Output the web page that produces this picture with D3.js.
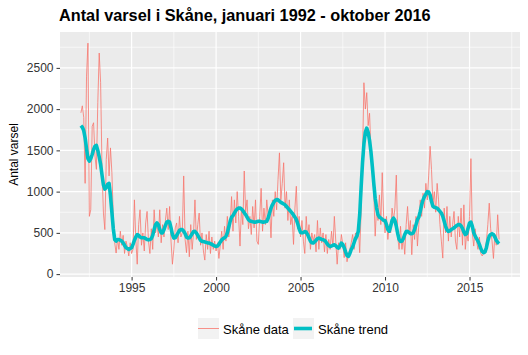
<!DOCTYPE html>
<html><head><meta charset="utf-8">
<script src="https://cdn.jsdelivr.net/npm/d3@7"></script>
<style>body{margin:0;background:#fff} svg{display:block;font-family:"Liberation Sans",Arial,sans-serif}</style>
</head><body><svg id="c" width="528" height="355"></svg>
<script>
const startYear = 1992; // first month: januari 1992, monthly values
const varselData = [
1955,2040,1900,1100,2400,2800,700,780,1790,1835,1430,1270,
2080,2680,2320,1270,740,540,1390,1650,1190,1530,1230,700,
380,255,430,300,520,350,470,250,400,330,220,380,
250,300,900,420,120,600,780,350,500,280,620,760,
400,250,550,300,780,500,620,450,780,380,600,450,
650,800,540,820,400,120,300,560,620,380,700,450,
500,1190,420,260,520,210,600,300,500,900,420,600,
740,350,500,280,170,480,300,520,250,450,300,400,
280,380,190,350,520,300,580,400,700,450,600,940,
520,900,620,1000,700,340,800,600,1250,750,900,550,
700,480,820,560,900,400,360,700,1040,520,800,600,
900,700,800,440,900,700,1000,780,1150,1470,900,1100,
1350,800,1000,650,900,600,700,360,800,1065,550,700,
450,650,400,250,700,450,600,300,500,400,480,270,
650,300,560,380,500,270,480,250,420,300,520,330,
700,400,120,380,300,480,360,200,380,150,250,300,
380,480,300,500,420,600,260,750,1400,2320,2000,2200,
1800,1950,1500,1250,1000,460,800,650,960,600,1230,700,
500,700,420,600,500,800,650,800,1200,450,300,580,
300,450,240,600,820,500,650,235,600,420,700,340,
600,900,700,980,800,1100,900,1200,1550,1270,850,1000,
750,1100,900,600,400,194,800,500,820,400,700,450,
600,760,400,300,700,450,800,350,840,300,500,400,
700,1400,500,340,550,400,300,450,250,220,255,300,
400,600,860,550,400,190,480,350,720,420
];
const trendData = [
1800,1780,1740,1650,1520,1400,1370,1400,1450,1510,1550,1560,
1500,1420,1330,1200,1080,1030,1050,1090,1100,950,750,550,
420,400,420,420,410,400,380,350,320,310,300,310,
320,360,410,450,480,470,450,440,440,440,430,420,
415,420,430,470,540,600,620,600,540,500,500,540,
590,630,640,630,560,480,437,440,470,500,530,540,
540,520,490,450,437,440,460,490,515,518,500,470,
440,410,397,395,390,385,378,377,370,360,350,340,
336,340,360,390,415,430,440,457,500,570,640,690,
710,740,770,790,800,802,790,770,745,720,690,660,
645,640,635,630,630,635,640,640,635,630,630,635,
640,680,740,800,840,870,895,903,900,885,870,860,
850,840,820,800,780,760,740,715,690,660,610,550,
505,500,505,515,510,480,440,400,380,377,390,410,
430,437,430,420,417,410,390,365,345,336,340,350,
356,345,325,316,340,377,360,320,270,225,215,250,
300,330,380,430,460,520,720,1050,1350,1580,1720,1770,
1720,1620,1480,1300,1100,920,800,720,690,680,665,650,
650,600,540,520,580,650,680,650,580,490,420,397,
400,430,480,515,518,505,490,490,500,540,600,660,
690,760,840,900,940,970,1000,995,960,880,822,810,
805,800,780,760,740,700,640,580,535,518,525,540,
550,560,575,590,600,600,585,555,510,480,490,560,
620,630,580,500,460,430,400,360,310,275,260,270,
320,400,460,480,490,480,450,410,385,370
];
const yTicks = [0,500,1000,1500,2000,2500];
const yMinor = [250,750,1250,1750,2250,2750];
const xTicks = [1995,2000,2005,2010,2015];
const xMinor = [1992.5,1997.5,2002.5,2007.5,2012.5,2017.5];
const legendLabels = ["Skåne data","Skåne trend"];
const titleText = "Antal varsel i Skåne, januari 1992 - oktober 2016";
const yTitle = "Antal varsel";

const svg = d3.select("#c");
const P = {l:60, r:520, t:32, b:277};
const tOf = i => startYear + i/12;
const tMax = tOf(varselData.length-1);
const span = tMax - startYear;
const x = d3.scaleLinear().domain([startYear - 0.05*span, tMax + 0.05*span]).range([P.l, P.r]);
const y = d3.scaleLinear().domain([-35, 2935]).range([P.b, P.t]);

svg.append("rect").attr("x",P.l).attr("y",P.t).attr("width",P.r-P.l).attr("height",P.b-P.t).attr("fill","#EBEBEB");
const g = svg.append("g");
g.selectAll(".ymin").data(yMinor).join("line").attr("x1",P.l).attr("x2",P.r)
  .attr("y1",d=>y(d)).attr("y2",d=>y(d)).attr("stroke","#fff").attr("stroke-width",0.6);
g.selectAll(".xmin").data(xMinor).join("line").attr("y1",P.t).attr("y2",P.b)
  .attr("x1",d=>x(d)).attr("x2",d=>x(d)).attr("stroke","#fff").attr("stroke-width",0.6);
g.selectAll(".ymaj").data(yTicks).join("line").attr("x1",P.l).attr("x2",P.r)
  .attr("y1",d=>y(d)).attr("y2",d=>y(d)).attr("stroke","#fff").attr("stroke-width",1.2);
g.selectAll(".xmaj").data(xTicks).join("line").attr("y1",P.t).attr("y2",P.b)
  .attr("x1",d=>x(d)).attr("x2",d=>x(d)).attr("stroke","#fff").attr("stroke-width",1.2);

svg.append("clipPath").attr("id","clip").append("rect")
  .attr("x",P.l).attr("y",P.t).attr("width",P.r-P.l).attr("height",P.b-P.t);
const line = d3.line().x((d,i)=>x(tOf(i))).y(d=>y(d));
svg.append("path").datum(varselData).attr("d",line).attr("clip-path","url(#clip)")
  .attr("fill","none").attr("stroke","#F8766D").attr("stroke-width",0.8);
svg.append("path").datum(trendData).attr("d",line).attr("clip-path","url(#clip)")
  .attr("fill","none").attr("stroke","#00BFC4").attr("stroke-width",3.6)
  .attr("stroke-linejoin","round").attr("stroke-linecap","butt");

const ax = svg.append("g").attr("transform",`translate(${P.l},0)`)
  .call(d3.axisLeft(y).tickValues(yTicks).tickSize(3.5).tickPadding(3).tickFormat(d3.format("d")));
const bx = svg.append("g").attr("transform",`translate(0,${P.b})`)
  .call(d3.axisBottom(x).tickValues(xTicks).tickSize(3.5).tickPadding(3).tickFormat(d3.format("d")));
[ax,bx].forEach(a=>{
  a.select(".domain").remove();
  a.selectAll(".tick line").attr("stroke","#333").attr("stroke-width",1);
  a.selectAll(".tick text").attr("fill","#333").style("font-size","12px").style("font-family","'Liberation Sans',Arial,sans-serif");
});

svg.append("text").attr("transform",`translate(18,${(P.t+P.b)/2}) rotate(-90)`)
  .attr("text-anchor","middle").style("font-size","12px").attr("fill","#000").text(yTitle);

const title = svg.append("text").attr("x",59).attr("y",21).style("font-size","16px")
  .style("font-weight","bold").attr("fill","#000").text(titleText);
const tw = title.node().getComputedTextLength();
title.style("font-size", (16*372/tw).toFixed(2)+"px");

const legendColors = ["#F8766D","#00BFC4"];
const legendWidths = [0.8,3.6];
const keyX = [198,293];
const lg = svg.append("g");
legendLabels.forEach((lab,i)=>{
  lg.append("rect").attr("x",keyX[i]).attr("y",318).attr("width",21).attr("height",21).attr("fill","#F2F2F2");
  lg.append("line").attr("x1",keyX[i]+(i?1:0)).attr("x2",keyX[i]+21-(i?2:0)).attr("y1",328.5).attr("y2",328.5)
    .attr("stroke",legendColors[i]).attr("stroke-width",legendWidths[i]);
  lg.append("text").attr("x",keyX[i]+25).attr("y",334).style("font-size","13px").attr("fill","#000").text(lab);
});
</script></body></html>
